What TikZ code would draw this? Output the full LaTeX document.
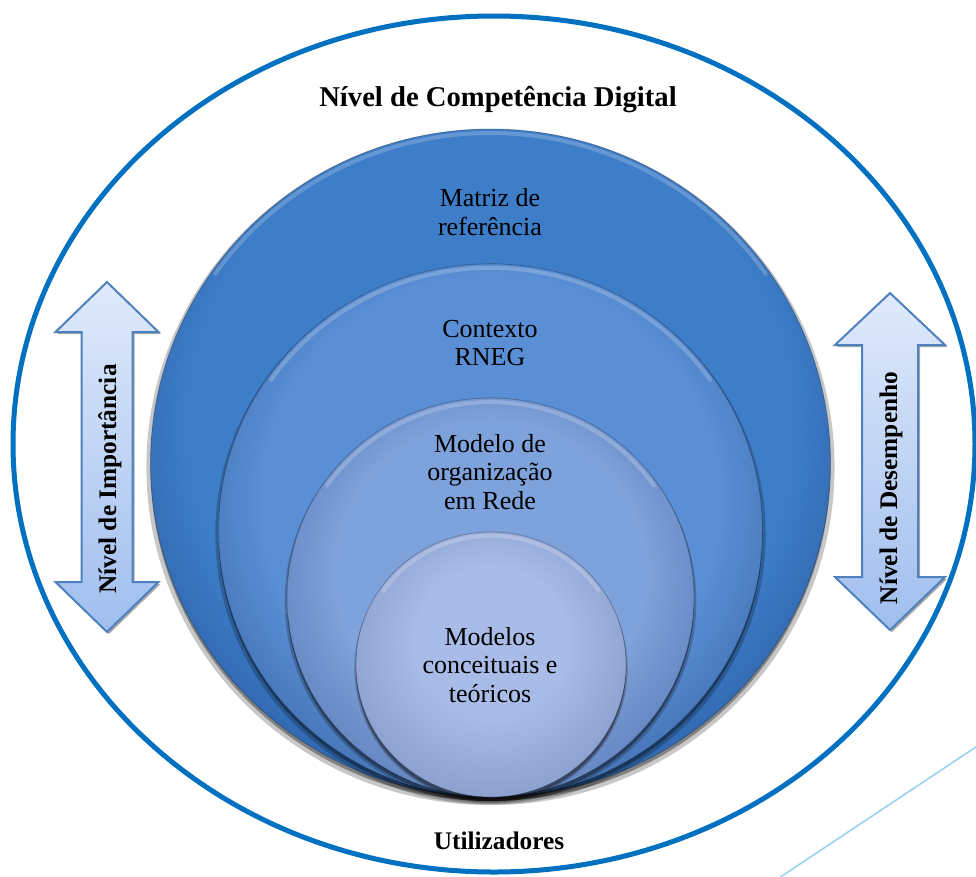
\documentclass[tikz,border=0pt]{standalone}
\usepackage{fontspec}
\setmainfont{Liberation Serif}
\usetikzlibrary{shadows}

\definecolor{ring}{RGB}{0,112,192}
\definecolor{diag}{RGB}{150,214,240}
\definecolor{arrowedge}{RGB}{79,129,189}
\definecolor{arrowtop}{RGB}{224,234,251}
\definecolor{arrowbot}{RGB}{160,190,238}
\definecolor{cAin}{RGB}{62,126,201}
\definecolor{cAout}{RGB}{42,94,164}
\definecolor{cBin}{RGB}{90,143,213}
\definecolor{cBout}{RGB}{62,108,172}
\definecolor{cCin}{RGB}{126,162,219}
\definecolor{cCout}{RGB}{94,126,186}
\definecolor{cDin}{RGB}{168,188,231}
\definecolor{cDout}{RGB}{136,156,204}

\pgfdeclareradialshading{bevA}{\pgfpoint{0bp}{5bp}}{color(0bp)=(cAin); color(22bp)=(cAin); color(30bp)=(cAout); color(50bp)=(cAout)}
\pgfdeclareradialshading{bevB}{\pgfpoint{0bp}{5bp}}{color(0bp)=(cBin); color(21bp)=(cBin); color(30bp)=(cBout); color(50bp)=(cBout)}
\pgfdeclareradialshading{bevC}{\pgfpoint{0bp}{5bp}}{color(0bp)=(cCin); color(19bp)=(cCin); color(30bp)=(cCout); color(50bp)=(cCout)}
\pgfdeclareradialshading{bevD}{\pgfpoint{0bp}{6bp}}{color(0bp)=(cDin); color(14bp)=(cDin); color(30bp)=(cDout); color(50bp)=(cDout)}

\tikzset{
  disc/.style={draw=black, draw opacity=0.25, line width=0.6pt,
    general shadow={shadow scale=1.012, shadow yshift=-3pt, opacity=0.22, fill=black},
    drop shadow={shadow xshift=0pt, shadow yshift=-3pt, opacity=0.35, fill=black}},
  rim/.style={white, opacity=0.2, line width=3pt, line cap=round},
  dblarrow/.style={draw=arrowedge, line width=1.5pt, top color=arrowtop,
    bottom color=arrowbot, line join=miter,
    drop shadow={shadow xshift=1.5pt, shadow yshift=-1.5pt, opacity=0.35, fill=black}},
  disclabel/.style={align=center, inner sep=0pt, font=\fontsize{19.5}{21.4}\selectfont},
  boldlabel/.style={inner sep=0pt, font=\bfseries\fontsize{19}{22}\selectfont},
}

\begin{document}
\begin{tikzpicture}[x=0.75pt, y=0.75pt]
\useasboundingbox (0,0) rectangle (976,-876);
\fill[white] (0,0) rectangle (976,-876);

% diagonal light line
\coordinate (d1) at (780,-877.3);
\coordinate (d2) at (977,-746.3);
\draw[diag, line width=1.2pt] (d1) -- (d2);

% outer ellipse
\draw[ring, line width=3.75pt] (494,-444) ellipse [x radius=360.75pt, y radius=321pt];

% nested discs
\path[disc, shading=bevA] (490.5,-463) ellipse [x radius=255pt, y radius=250.5pt];
\draw[rim] ([shift={(145:252pt and 247.5pt)}]490.5,-463) arc[start angle=145, end angle=35, x radius=252pt, y radius=247.5pt];

\path[disc, shading=bevB] (490.5,-530.5) ellipse [x radius=204pt, y radius=200pt];
\draw[rim] ([shift={(145:201pt and 197pt)}]490.5,-530.5) arc[start angle=145, end angle=35, x radius=201pt, y radius=197pt];

\path[disc, shading=bevC] (490.5,-597.5) ellipse [x radius=152.6pt, y radius=149.6pt];
\draw[rim] ([shift={(145:149.6pt and 146.6pt)}]490.5,-597.5) arc[start angle=145, end angle=35, x radius=149.6pt, y radius=146.6pt];

\path[disc, shading=bevD] (491,-664.5) ellipse [x radius=101.3pt, y radius=99.4pt];
\draw[rim] ([shift={(145:98.5pt and 96.6pt)}]491,-664.5) arc[start angle=145, end angle=35, x radius=98.5pt, y radius=96.6pt];

% double arrows
\path[dblarrow] (107,-282) -- (158.5,-332) -- (132.5,-332) -- (132.5,-582) -- (158.5,-582)
  -- (107,-632) -- (55.5,-582) -- (81.5,-582) -- (81.5,-332) -- (55.5,-332) -- cycle;
\path[dblarrow] (890,-293) -- (945,-345) -- (918,-345) -- (918,-577) -- (945,-577)
  -- (890,-630) -- (835,-577) -- (862,-577) -- (862,-345) -- (835,-345) -- cycle;

% texts
\node[inner sep=0pt, font=\bfseries\fontsize{21.5}{24}\selectfont] (title) at (498,-100) {Nível de Competência Digital};
\node[boldlabel] (users) at (499,-841) {Utilizadores};
\node[disclabel] (t1) at (490,-212) {Matriz de\\referência};
\node[disclabel] (t2) at (490,-343) {Contexto\\RNEG};
\node[disclabel] (t3) at (490,-472) {Modelo de\\organização\\em Rede};
\node[disclabel] (t4) at (490,-665) {Modelos\\conceituais e\\teóricos};
\node[boldlabel, rotate=90] (imp) at (110,-479) {Nível de Importância};
\node[boldlabel, rotate=90] (des) at (891,-488) {Nível de Desempenho};
\end{tikzpicture}
\end{document}
